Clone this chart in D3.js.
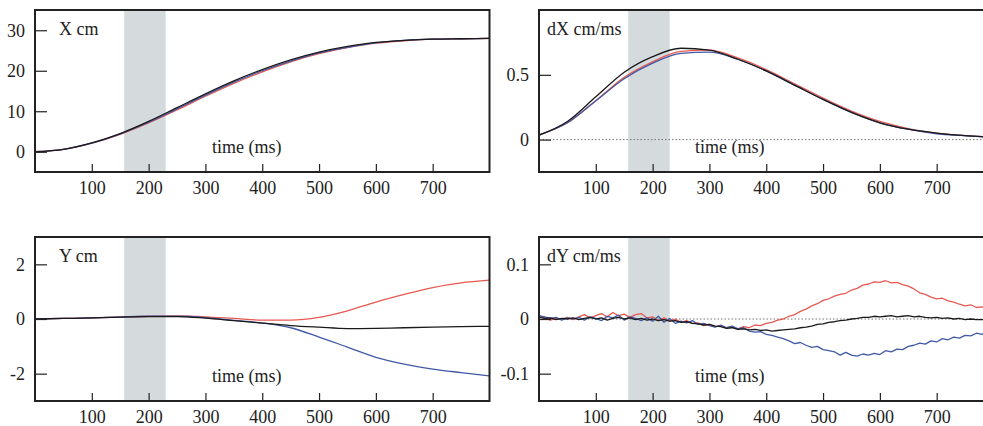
<!DOCTYPE html>
<html>
<head>
<meta charset="utf-8">
<script src="https://cdn.jsdelivr.net/npm/d3@7"></script>
<style>
  body { margin: 0; background: #fff; }
  svg { display: block; }
  .frame { fill: none; stroke: #222; stroke-width: 2; }
  .tick line { stroke: #222; stroke-width: 1.2; }
  .domain { display: none; }
  .series { fill: none; stroke-width: 1.3; stroke-linejoin: round; }
</style>
</head>
<body>
<div class="chart"></div>
<script>
// sample times (ms) for the smooth traces
const tSmooth = [0, 50, 100, 150, 200, 250, 300, 350, 400, 450, 500, 550, 600, 650, 700, 750, 800];

// X position (cm)
const xBlack = [0, 0.6, 2.2, 4.5, 7.5, 10.9, 14.3, 17.5, 20.3, 22.7, 24.6, 26.0, 27.0, 27.5, 27.8, 27.9, 28.0];
const xRed   = [0, 0.6, 2.1, 4.3, 7.1, 10.3, 13.7, 16.9, 19.7, 22.2, 24.2, 25.7, 26.8, 27.4, 27.8, 27.9, 28.0];
const xBlue  = [0, 0.6, 2.1, 4.4, 7.3, 10.6, 14.0, 17.2, 20.0, 22.4, 24.4, 25.8, 26.9, 27.5, 27.8, 27.9, 28.0];

// dX velocity (cm/ms)
const dxBlack = [0.035, 0.14, 0.33, 0.52, 0.64, 0.705, 0.69, 0.62, 0.53, 0.42, 0.31, 0.21, 0.13, 0.08, 0.05, 0.03, 0.02];
const dxRed   = [0.035, 0.13, 0.30, 0.48, 0.60, 0.68, 0.69, 0.63, 0.54, 0.43, 0.32, 0.22, 0.14, 0.085, 0.05, 0.03, 0.02];
const dxBlue  = [0.035, 0.13, 0.30, 0.47, 0.59, 0.665, 0.675, 0.62, 0.53, 0.42, 0.31, 0.21, 0.13, 0.08, 0.045, 0.03, 0.015];

// Y position (cm)
const yBlack = [0, 0.02, 0.04, 0.07, 0.09, 0.09, 0.03, -0.06, -0.15, -0.24, -0.30, -0.35, -0.34, -0.32, -0.30, -0.28, -0.27];
const yRed   = [0, 0.02, 0.04, 0.07, 0.10, 0.11, 0.08, 0.02, -0.04, -0.04, 0.06, 0.30, 0.62, 0.90, 1.15, 1.32, 1.42];
const yBlue  = [0, 0.02, 0.04, 0.07, 0.10, 0.10, 0.05, -0.05, -0.15, -0.32, -0.66, -1.03, -1.40, -1.65, -1.83, -1.96, -2.08];

// sample times (ms) for the noisy dY traces, every 10 ms
const tNoisy = d3.range(0, 801, 10);

const dyRed = [0.005, 0.002, -0.002, 0.001, 0.000, 0.003, -0.001, 0.004, 0.008, 0.002,
  0.006, 0.010, 0.004, 0.012, 0.006, 0.009, 0.003, 0.008, 0.010, 0.002,
  0.004, -0.003, 0.002, -0.004, 0.000, -0.006, -0.003, -0.008, -0.007, -0.012,
  -0.010, -0.014, -0.012, -0.016, -0.015, -0.018, -0.014, -0.016, -0.011, -0.012,
  -0.008, -0.006, -0.002, 0.000, 0.005, 0.008, 0.014, 0.018, 0.024, 0.028,
  0.034, 0.037, 0.042, 0.045, 0.047, 0.053, 0.056, 0.062, 0.064, 0.068,
  0.067, 0.070, 0.066, 0.067, 0.063, 0.060, 0.055, 0.048, 0.045, 0.040,
  0.037, 0.038, 0.033, 0.031, 0.027, 0.024, 0.026, 0.021, 0.022, 0.020, 0.020];

const dyBlack = [0.003, 0.001, 0.002, -0.001, 0.001, 0.000, 0.002, -0.001, 0.001, 0.003,
  0.000, 0.002, -0.002, 0.001, 0.003, 0.000, 0.002, -0.001, 0.001, -0.002,
  0.000, -0.003, -0.001, -0.004, -0.003, -0.006, -0.005, -0.008, -0.009, -0.011,
  -0.010, -0.013, -0.014, -0.017, -0.016, -0.019, -0.018, -0.020, -0.019, -0.021,
  -0.020, -0.022, -0.021, -0.020, -0.019, -0.018, -0.016, -0.015, -0.013, -0.010,
  -0.009, -0.006, -0.005, -0.003, -0.002, 0.000, 0.001, 0.003, 0.003, 0.005,
  0.004, 0.005, 0.006, 0.004, 0.005, 0.006, 0.004, 0.005, 0.003, 0.002,
  0.003, 0.001, 0.002, 0.000, 0.001, -0.001, 0.000, -0.001, -0.001, -0.002, -0.001];

const dyBlue = [0.006, 0.004, 0.001, 0.003, -0.002, 0.002, 0.000, 0.003, -0.002, 0.004,
  0.001, -0.003, 0.005, 0.002, 0.007, -0.002, 0.004, 0.001, -0.003, 0.002,
  -0.004, 0.005, -0.006, 0.001, -0.008, -0.004, -0.007, -0.003, -0.010, -0.008,
  -0.012, -0.015, -0.011, -0.016, -0.013, -0.018, -0.016, -0.022, -0.024, -0.023,
  -0.028, -0.030, -0.033, -0.036, -0.040, -0.045, -0.043, -0.048, -0.052, -0.050,
  -0.056, -0.058, -0.060, -0.066, -0.061, -0.066, -0.068, -0.064, -0.066, -0.063,
  -0.065, -0.058, -0.060, -0.055, -0.056, -0.050, -0.048, -0.044, -0.046, -0.040,
  -0.042, -0.036, -0.038, -0.033, -0.035, -0.030, -0.031, -0.026, -0.028, -0.021, -0.020];

const timeTicks = [100, 200, 300, 400, 500, 600, 700];
const shadeRange = [157, 230];

const colors = { red: "#e65a52", blue: "#4159a6", black: "#1a1a1a" };
const fontFamily = "'Liberation Serif', 'Times New Roman', serif";

const width = 983, height = 426;

const panels = [
  { title: "X cm", left: 35, top: 10, bottom: 172, yDomain: [-5, 35], yTicks: [0, 10, 20, 30],
    t: tSmooth, series: [xRed, xBlue, xBlack], zeroLine: false, timeX: 212 },
  { title: "dX cm/ms", left: 539, top: 10, bottom: 172, yDomain: [-0.25, 1.0], yTicks: [0, 0.5],
    t: tSmooth, series: [dxRed, dxBlue, dxBlack], zeroLine: true, timeX: 695 },
  { title: "Y cm", left: 35, top: 237, bottom: 401, yDomain: [-3, 3], yTicks: [-2, 0, 2],
    t: tSmooth, series: [yRed, yBlue, yBlack], zeroLine: false, timeX: 212 },
  { title: "dY cm/ms", left: 539, top: 237, bottom: 401, yDomain: [-0.15, 0.15], yTicks: [-0.1, 0, 0.1],
    t: tNoisy, series: [dyRed, dyBlue, dyBlack], zeroLine: true, timeX: 695, noisy: true }
];
const seriesColors = [colors.red, colors.blue, colors.black];
const panelWidth = 454.5;

const svg = d3.select(".chart").append("svg")
  .attr("width", width)
  .attr("height", height);

panels.forEach(drawPanel);

function styleText(sel) {
  sel.attr("font-family", fontFamily)
    .attr("font-size", 18)
    .attr("fill", "#222")
    .style("font-family", fontFamily)
    .style("font-size", "18px");
}

function drawPanel(p) {
  const x = d3.scaleLinear().domain([0, 800]).range([p.left, p.left + panelWidth]);
  const y = d3.scaleLinear().domain(p.yDomain).range([p.bottom, p.top]);
  const g = svg.append("g");

  const clipId = "clip-" + p.left + "-" + p.top;
  g.append("clipPath").attr("id", clipId)
    .append("rect")
    .attr("x", p.left).attr("y", p.top)
    .attr("width", panelWidth).attr("height", p.bottom - p.top);

  // stimulus window
  g.append("rect")
    .attr("x", x(shadeRange[0]))
    .attr("y", p.top)
    .attr("width", x(shadeRange[1]) - x(shadeRange[0]))
    .attr("height", p.bottom - p.top)
    .attr("fill", "#d5dadd");

  if (p.zeroLine) {
    g.append("line")
      .attr("x1", p.left).attr("x2", p.left + panelWidth)
      .attr("y1", y(0)).attr("y2", y(0))
      .attr("stroke", "#777")
      .attr("stroke-width", 1)
      .attr("stroke-dasharray", "1.5,2");
  }

  const line = d3.line()
    .x((d, i) => x(p.t[i]))
    .y(d => y(d))
    .curve(p.noisy ? d3.curveLinear : d3.curveMonotoneX);

  const lines = g.append("g").attr("clip-path", `url(#${clipId})`);
  p.series.forEach((s, k) => {
    lines.append("path")
      .attr("class", "series")
      .attr("d", line(s))
      .attr("stroke", seriesColors[k]);
  });

  const fmt = d => d === 0 ? "0" : String(d);

  const xAxis = g.append("g")
    .attr("transform", `translate(0,${p.bottom})`)
    .call(d3.axisBottom(x).tickValues(timeTicks).tickSize(-8).tickPadding(9).tickFormat(d3.format("d")));
  styleText(xAxis.selectAll("text"));

  const yAxis = g.append("g")
    .attr("transform", `translate(${p.left},0)`)
    .call(d3.axisLeft(y).tickValues(p.yTicks).tickSize(-12).tickPadding(10).tickFormat(fmt));
  styleText(yAxis.selectAll("text"));

  g.append("rect")
    .attr("class", "frame")
    .attr("x", p.left).attr("y", p.top)
    .attr("width", panelWidth).attr("height", p.bottom - p.top);

  g.append("text")
    .attr("x", p.left + (p.left < 100 ? 24 : 8))
    .attr("y", p.top + 25)
    .call(styleText)
    .text(p.title);

  g.append("text")
    .attr("x", p.timeX)
    .attr("y", p.bottom - 19)
    .call(styleText)
    .text("time (ms)");
}
</script>
</body>
</html>
